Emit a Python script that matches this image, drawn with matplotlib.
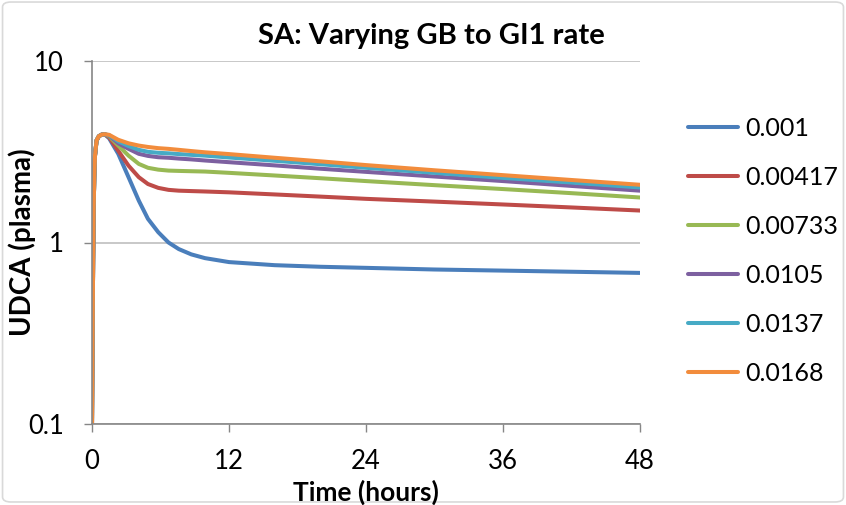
import matplotlib
matplotlib.use('Agg')
import matplotlib.pyplot as plt
from matplotlib.patches import FancyBboxPatch

plt.rcParams['font.family'] = ['Lato', 'DejaVu Sans']

# Tempo (horas)
tempo = [0, 0.05, 0.1, 0.15, 0.2, 0.26, 0.4, 0.6, 0.85, 1.1, 1.5, 2.3, 3.2, 4.1, 4.9, 5.8,
         6.7, 7.6, 8.7, 9.9, 12, 16, 20, 24, 30, 36, 42, 48]

# Subida inicial (comum a todas as séries)
subida = [0.1, 0.3, 0.8, 1.6, 2.3, 3.0, 3.65, 3.85, 3.93, 3.95]

udca_0001 = subida + [3.75, 3.08, 2.29, 1.70, 1.35, 1.14, 1.0, 0.92, 0.86, 0.82,
                      0.78, 0.75, 0.735, 0.725, 0.71, 0.70, 0.69, 0.68]
udca_00417 = subida + [3.8, 3.2, 2.65, 2.29, 2.10, 2.0, 1.95, 1.93, 1.92, 1.91,
                       1.89, 1.84, 1.79, 1.74, 1.68, 1.62, 1.56, 1.50]
udca_00733 = subida + [3.85, 3.42, 3.01, 2.71, 2.58, 2.52, 2.49, 2.48, 2.47, 2.46,
                       2.42, 2.34, 2.26, 2.18, 2.07, 1.97, 1.87, 1.77]
udca_0105 = subida + [3.88, 3.52, 3.28, 3.08, 3.0, 2.95, 2.93, 2.90, 2.87, 2.83,
                      2.77, 2.66, 2.55, 2.45, 2.31, 2.18, 2.05, 1.93]
udca_0137 = subida + [3.9, 3.61, 3.4, 3.24, 3.16, 3.12, 3.10, 3.07, 3.04, 3.01,
                      2.94, 2.82, 2.70, 2.58, 2.42, 2.27, 2.14, 2.01]
udca_0168 = subida + [3.92, 3.68, 3.52, 3.42, 3.36, 3.31, 3.28, 3.24, 3.19, 3.14,
                      3.07, 2.93, 2.80, 2.67, 2.50, 2.35, 2.21, 2.08]

series = [udca_0001, udca_00417, udca_00733, udca_0105, udca_0137, udca_0168]
rotulos = ['0.001', '0.00417', '0.00733', '0.0105', '0.0137', '0.0168']
cores = ['#4A7EBB', '#BE4B48', '#98B954', '#7D60A0', '#46AAC5', '#F28C3C']

fig = plt.figure(figsize=(8.46, 5.05), dpi=100)
ax = fig.add_axes([92/846, 1 - 424/505, (640 - 92)/846, (424 - 61)/505])

# Borda do gráfico (estilo Excel)
fig.patches.append(FancyBboxPatch((0.003, 0.006), 0.994, 0.99, boxstyle='round,pad=0,rounding_size=0.01',
                                  transform=fig.transFigure, fill=False, edgecolor='#D9D9D9', lw=1.2))

for y, rot, cor in zip(series, rotulos, cores):
    ax.plot(tempo, y, color=cor, lw=2.9, label=rot, solid_capstyle='round')

ax.set_yscale('log')
ax.set_ylim(0.1, 10)
ax.set_xlim(0, 48)
ax.set_xticks([0, 12, 24, 36, 48])
ax.set_yticks([0.1, 1, 10])
ax.set_yticklabels(['0.1', '1', '10'])
ax.minorticks_off()
ax.tick_params(axis='both', labelsize=18.5, color='#868686', length=6, width=1)
ax.tick_params(axis='x', pad=12)
ax.tick_params(axis='y', pad=14)
ax.grid(axis='y', color='#BFBFBF', lw=1.2)
for s in ['top', 'right']:
    ax.spines[s].set_visible(False)
for s in ['left', 'bottom']:
    ax.spines[s].set_color('#868686')
    ax.spines[s].set_linewidth(1.2)

fig.text(431/846, 1 - 44/505, 'SA: Varying GB to GI1 rate', fontsize=21, fontweight='bold',
         ha='center', va='baseline')
fig.text(366/846, 1 - 501/505, 'Time (hours)', fontsize=19, fontweight='bold',
         ha='center', va='baseline')
fig.text(22/846, 1 - 242/505, 'UDCA (plasma)', fontsize=20, fontweight='bold',
         ha='center', va='center', rotation=90)

leg = ax.legend(loc='center left', bbox_to_anchor=(688/846, 1 - 251/505), bbox_transform=fig.transFigure,
                frameon=False, fontsize=18, handlelength=2.0, handletextpad=0.28,
                labelspacing=1.04, borderpad=0, borderaxespad=0)

fig.savefig('out.png', dpi=100)
